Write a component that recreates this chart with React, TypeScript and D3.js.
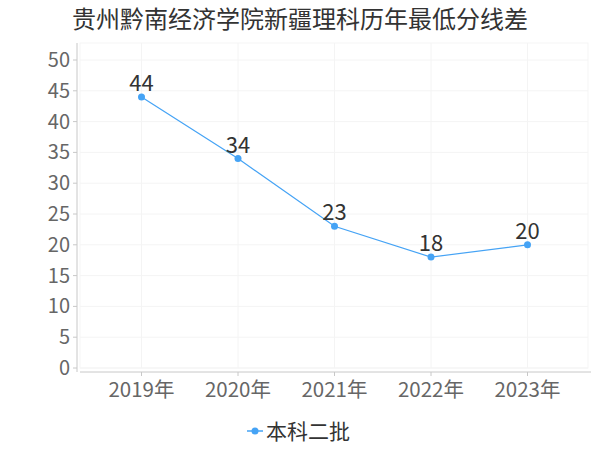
import React from "react";
import * as d3 from "d3";

// DATA
const years = ["2019年", "2020年", "2021年", "2022年", "2023年"];
const values = [44, 34, 23, 18, 20];
const yTicks = [0, 5, 10, 15, 20, 25, 30, 35, 40, 45, 50];
const title = "贵州黔南经济学院新疆理科历年最低分线差";
const seriesName = "本科二批";

const FONT = "'Noto Sans CJK SC', 'Noto Sans', sans-serif";
const LINE = "#45a3f5";

export default function App() {
  // plot box
  const left = 80;
  const right = 588;
  const top = 43;
  const bottom = 368;

  const x = d3.scalePoint<string>().domain(years).range([141.5, 527.5]);
  const y = d3.scaleLinear().domain([0, 50]).range([bottom, 60]);

  const line = d3
    .line<number>()
    .x((d, i) => x(years[i]) as number)
    .y((d) => y(d));

  return (
    <svg
      width={600}
      height={450}
      style={{ position: "absolute", left: 0, top: 0, background: "#fff" }}
      fontFamily={FONT}
    >
      {/* TITLE */}
      <text x={300} y={28} textAnchor="middle" fontSize={24} fill="#333">
        {title}
      </text>

      {/* GRID */}
      <rect x={left} y={top} width={right - left} height={bottom - top} fill="none" stroke="#f5f5f5" />
      {yTicks.map((t) => (
        <line key={"gy" + t} x1={left} x2={right} y1={y(t)} y2={y(t)} stroke="#f4f4f4" />
      ))}
      {years.map((c) => (
        <line key={"gx" + c} x1={x(c)} x2={x(c)} y1={top} y2={bottom} stroke="#f4f4f4" />
      ))}

      {/* Y AXIS */}
      <line x1={77} x2={77} y1={top} y2={372} stroke="#c8c8c8" />
      {yTicks.map((t) => (
        <g key={"ty" + t}>
          <line x1={73} x2={77} y1={y(t)} y2={y(t)} stroke="#c8c8c8" />
          <text x={70} y={y(t)} dy="0.35em" textAnchor="end" fontSize={20} fill="#666">
            {t}
          </text>
        </g>
      ))}

      {/* X AXIS */}
      <line x1={left} x2={591} y1={372} y2={372} stroke="#c8c8c8" />
      {years.map((c) => (
        <g key={"tx" + c}>
          <line x1={x(c)} x2={x(c)} y1={372} y2={376} stroke="#c8c8c8" />
          <text x={x(c)} y={397} textAnchor="middle" fontSize={20.5} fill="#666">
            {c}
          </text>
        </g>
      ))}

      {/* LINE */}
      <path d={line(values) || ""} fill="none" stroke={LINE} strokeWidth={1.2} />
      {values.map((v, i) => (
        <g key={"p" + i}>
          <circle cx={x(years[i])} cy={y(v)} r={3.5} fill={LINE} />
          <text x={x(years[i])} y={y(v) - 6} textAnchor="middle" fontSize={22} fill="#333">
            {v}
          </text>
        </g>
      ))}

      {/* LEGEND */}
      <line x1={247} x2={263} y1={431} y2={431} stroke={LINE} strokeWidth={1.5} />
      <circle cx={255} cy={431} r={3.5} fill={LINE} />
      <text x={266} y={439} fontSize={21} fill="#333">
        {seriesName}
      </text>
    </svg>
  );
}
